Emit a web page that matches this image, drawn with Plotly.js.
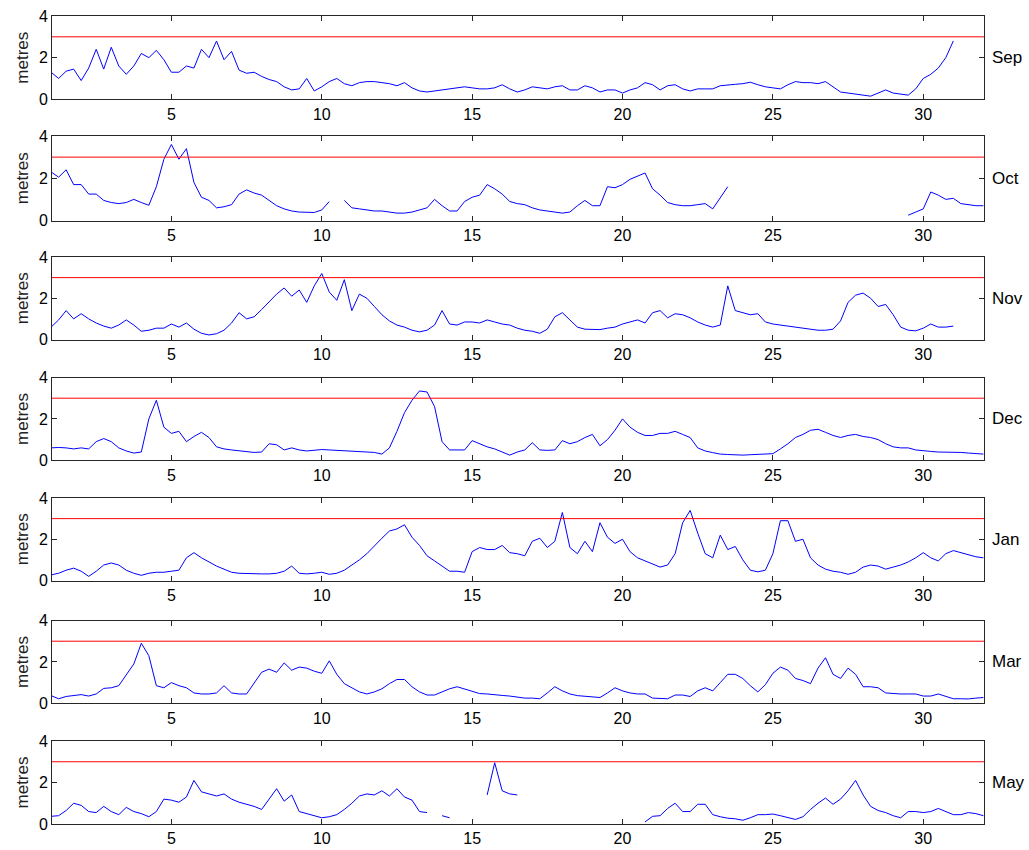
<!DOCTYPE html>
<html><head><meta charset="utf-8">
<script src="https://cdn.plot.ly/plotly-3.0.1.min.js"></script>
<style>html,body{margin:0;padding:0;background:#fff}#chart{width:1029px;height:850px}</style>
</head><body><div id="chart"></div><script>
// ---- data (wave height, metres) sampled every 0.25 day from day 1 ----
const months = ['Sep', 'Oct', 'Nov', 'Dec', 'Jan', 'Mar', 'May'];
const dayStart = 1;
const dayStep = 0.25;
const threshold = 3;
const xTicks = [5, 10, 15, 20, 25, 30];
const yTicks = [0, 2, 4];

const sep = [
 1.3, 1.0, 1.35, 1.45, 0.9, 1.5, 2.4, 1.45,
 2.5, 1.6, 1.2, 1.6, 2.2, 2.0, 2.35, 1.9,
 1.3, 1.3, 1.6, 1.5, 2.4, 2.0, 2.8, 1.9,
 2.3, 1.4, 1.25, 1.3, 1.1, 0.95, 0.85, 0.6,
 0.45, 0.5, 1.0, 0.4, 0.6, 0.85, 1.0, 0.75,
 0.65, 0.8, 0.85, 0.85, 0.8, 0.75, 0.65, 0.8,
 0.55, 0.4, 0.35, 0.4, 0.45, 0.5, 0.55, 0.6,
 0.55, 0.5, 0.5, 0.55, 0.7, 0.5, 0.35, 0.45,
 0.6, 0.55, 0.5, 0.6, 0.65, 0.45, 0.45, 0.65,
 0.55, 0.35, 0.45, 0.45, 0.3, 0.45, 0.55, 0.8,
 0.7, 0.45, 0.65, 0.7, 0.5, 0.4, 0.5, 0.5,
 0.5, 0.65, 0.7, 0.72, 0.75, 0.82, 0.7, 0.6,
 0.55, 0.5, 0.7, 0.85, 0.8, 0.8, 0.75, 0.85,
 0.6, 0.35, 0.3, 0.25, 0.2, 0.15, 0.3, 0.45,
 0.3, 0.25, 0.2, 0.5, 1.0, 1.2, 1.5, 2.0,
 2.8, null, null, null, null
];
const oct = [
 2.3, 2.05, 2.4, 1.7, 1.7, 1.25, 1.25, 0.95,
 0.85, 0.8, 0.85, 1.0, 0.85, 0.72, 1.6, 2.9,
 3.6, 2.9, 3.4, 1.8, 1.1, 0.95, 0.6, 0.65,
 0.75, 1.25, 1.45, 1.3, 1.2, 0.95, 0.7, 0.55,
 0.45, 0.4, 0.4, 0.38, 0.5, 0.9, null, 0.95,
 0.6, 0.55, 0.5, 0.45, 0.45, 0.4, 0.35, 0.35,
 0.4, 0.5, 0.6, 1.0, 0.7, 0.45, 0.45, 0.9,
 1.1, 1.2, 1.7, 1.5, 1.25, 0.9, 0.8, 0.75,
 0.6, 0.5, 0.45, 0.4, 0.35, 0.4, 0.7, 0.95,
 0.7, 0.7, 1.6, 1.55, 1.7, 1.95, 2.1, 2.25,
 1.5, 1.2, 0.85, 0.75, 0.7, 0.7, 0.75, 0.8,
 0.55, 1.1, 1.6, null, null, null, null, null,
 null, null, null, null, null, null, null, null,
 null, null, null, null, null, null, null, null,
 null, null, 0.25, 0.4, 0.55, 1.35, 1.2, 1.0,
 1.05, 0.8, 0.75, 0.7, 0.7
];
const nov = [
 0.6, 0.95, 1.4, 1.0, 1.25, 1.0, 0.8, 0.65,
 0.55, 0.7, 0.95, 0.7, 0.4, 0.45, 0.55, 0.55,
 0.75, 0.6, 0.8, 0.5, 0.3, 0.22, 0.28, 0.45,
 0.8, 1.3, 1.0, 1.1, 1.45, 1.85, 2.2, 2.5,
 2.1, 2.4, 1.8, 2.6, 3.2, 2.3, 1.9, 2.9,
 1.4, 2.2, 2.0, 1.6, 1.2, 0.9, 0.7, 0.6,
 0.45, 0.37, 0.45, 0.7, 1.4, 0.75, 0.7, 0.85,
 0.85, 0.8, 0.95, 0.85, 0.75, 0.7, 0.55, 0.45,
 0.4, 0.3, 0.5, 1.1, 1.3, 0.95, 0.6, 0.5,
 0.5, 0.48, 0.55, 0.6, 0.75, 0.85, 0.95, 0.8,
 1.3, 1.4, 1.05, 1.25, 1.2, 1.05, 0.85, 0.7,
 0.6, 0.7, 2.6, 1.4, 1.3, 1.2, 1.25, 0.85,
 0.75, 0.7, 0.65, 0.62, 0.58, 0.5, 0.45, 0.45,
 0.5, 0.9, 1.8, 2.15, 2.25, 2.0, 1.6, 1.7,
 1.2, 0.6, 0.45, 0.42, 0.55, 0.75, 0.6, 0.6,
 0.65, null, null, null, null
];
const dec = [
 0.6, 0.62, 0.6, 0.55, 0.6, 0.55, 0.9, 1.05,
 0.9, 0.6, 0.45, 0.35, 0.4, 2.0, 2.9, 1.6,
 1.3, 1.4, 0.9, 1.15, 1.35, 1.1, 0.65, 0.55,
 0.5, 0.45, 0.4, 0.38, 0.4, 0.8, 0.75, 0.5,
 0.6, 0.5, 0.45, 0.5, 0.52, 0.5, 0.48, 0.48,
 0.45, 0.43, 0.4, 0.38, 0.3, 0.6, 1.4, 2.3,
 2.9, 3.35, 3.3, 2.6, 0.9, 0.5, 0.5, 0.5,
 0.95, 0.8, 0.65, 0.55, 0.4, 0.25, 0.4, 0.5,
 0.85, 0.5, 0.48, 0.5, 0.95, 0.8, 0.9, 1.1,
 1.25, 0.7, 1.0, 1.45, 2.0, 1.6, 1.35, 1.2,
 1.2, 1.3, 1.3, 1.4, 1.25, 1.1, 0.6, 0.45,
 0.37, 0.3, 0.28, 0.25, 0.25, 0.27, 0.28, 0.3,
 0.32, 0.55, 0.8, 1.1, 1.25, 1.45, 1.5, 1.35,
 1.2, 1.1, 1.2, 1.25, 1.15, 1.1, 1.0, 0.8,
 0.65, 0.6, 0.6, 0.5, 0.45, 0.43, 0.4, 0.4,
 0.4, 0.38, 0.35, 0.33, 0.3
];
const jan = [
 0.27, 0.35, 0.5, 0.6, 0.45, 0.2, 0.45, 0.75,
 0.85, 0.75, 0.5, 0.35, 0.25, 0.35, 0.4, 0.4,
 0.45, 0.5, 1.1, 1.35, 1.1, 0.9, 0.7, 0.55,
 0.4, 0.35, 0.33, 0.32, 0.32, 0.32, 0.35, 0.45,
 0.7, 0.35, 0.32, 0.35, 0.4, 0.3, 0.35, 0.5,
 0.75, 1.0, 1.3, 1.7, 2.05, 2.4, 2.5, 2.7,
 2.1, 1.7, 1.2, 0.95, 0.7, 0.45, 0.45, 0.4,
 1.4, 1.6, 1.5, 1.5, 1.7, 1.35, 1.3, 1.2,
 1.9, 2.05, 1.6, 1.9, 3.3, 1.6, 1.3, 1.9,
 1.4, 2.8, 2.1, 1.8, 2.0, 1.4, 1.1, 0.95,
 0.8, 0.65, 0.75, 1.3, 2.8, 3.4, 2.3, 1.3,
 1.1, 2.2, 1.5, 1.65, 1.0, 0.5, 0.42, 0.5,
 1.3, 2.9, 2.9, 1.9, 2.0, 1.1, 0.75, 0.55,
 0.45, 0.4, 0.3, 0.4, 0.65, 0.75, 0.7, 0.55,
 0.65, 0.75, 0.9, 1.1, 1.35, 1.1, 0.95, 1.3,
 1.45, 1.35, 1.25, 1.15, 1.1
];
const mar = [
 0.37, 0.22, 0.33, 0.37, 0.42, 0.35, 0.45, 0.72,
 0.75, 0.85, 1.4, 1.9, 2.9, 2.3, 0.85, 0.75,
 1.0, 0.85, 0.75, 0.5, 0.45, 0.45, 0.5, 0.85,
 0.5, 0.45, 0.45, 1.0, 1.5, 1.65, 1.5, 1.95,
 1.6, 1.75, 1.7, 1.55, 1.45, 2.05, 1.4, 0.95,
 0.75, 0.55, 0.45, 0.55, 0.7, 0.95, 1.15, 1.15,
 0.8, 0.55, 0.4, 0.4, 0.55, 0.7, 0.8, 0.7,
 0.6, 0.47, 0.45, 0.4, 0.38, 0.35, 0.3, 0.25,
 0.25, 0.22, 0.5, 0.8, 0.6, 0.45, 0.37, 0.35,
 0.32, 0.28, 0.5, 0.75, 0.6, 0.5, 0.45, 0.45,
 0.25, 0.22, 0.22, 0.4, 0.4, 0.33, 0.6, 0.75,
 0.6, 1.0, 1.4, 1.4, 1.2, 0.85, 0.55, 0.9,
 1.45, 1.75, 1.6, 1.2, 1.1, 0.95, 1.7, 2.2,
 1.4, 1.2, 1.7, 1.4, 0.8, 0.8, 0.75, 0.5,
 0.47, 0.45, 0.45, 0.45, 0.35, 0.35, 0.45, 0.35,
 0.22, 0.22, 0.21, 0.25, 0.28
];
const may = [
 0.37, 0.4, 0.65, 1.0, 0.9, 0.6, 0.55, 0.85,
 0.6, 0.45, 0.8, 0.6, 0.5, 0.35, 0.6, 1.2,
 1.15, 1.05, 1.3, 2.1, 1.55, 1.45, 1.35, 1.45,
 1.2, 1.05, 0.95, 0.85, 0.7, 1.2, 1.7, 1.1,
 1.4, 0.6, 0.5, 0.37, 0.3, 0.35, 0.45, 0.7,
 1.0, 1.35, 1.45, 1.4, 1.6, 1.35, 1.7, 1.3,
 1.15, 0.6, 0.55, null, 0.4, 0.3, null, null,
 null, null, 1.4, 2.95, 1.6, 1.45, 1.4, null,
 null, null, null, null, null, null, null, null,
 null, null, null, null, null, null, null, 0.1,
 0.37, 0.4, 0.75, 1.0, 0.6, 0.6, 0.95, 0.95,
 0.45, 0.35, 0.28, 0.25, 0.18, 0.3, 0.45, 0.45,
 0.48, 0.4, 0.3, 0.22, 0.35, 0.7, 1.0, 1.25,
 0.95, 1.2, 1.6, 2.1, 1.4, 0.85, 0.65, 0.55,
 0.4, 0.3, 0.6, 0.6, 0.55, 0.6, 0.75, 0.6,
 0.45, 0.45, 0.55, 0.5, 0.4
];
const series = [sep, oct, nov, dec, jan, mar, may];

// ---- layout geometry ----
const W = 1029, H = 850;
const margin = {l: 52, r: 45, t: 16, b: 26};
const panelTop = [16, 136, 257, 377.5, 498, 620.5, 741];
const panelBottom = [99.3, 220.5, 339.5, 460.3, 580.5, 703.3, 824];
const plotH = H - margin.t - margin.b;
const frac = p => Math.max(0, Math.min(1, (H - margin.b - p) / plotH));

const axisColor = '#262626';
const fam = 'Liberation Sans, Arial, sans-serif';
const font = {family: fam, size: 16, color: '#000'};

const traces = [];
const layout = {
  width: W, height: H, margin: margin,
  paper_bgcolor: '#fff', plot_bgcolor: '#fff',
  showlegend: false, font: font,
  shapes: [], annotations: []
};

series.forEach((vals, i) => {
  const n = i === 0 ? '' : String(i + 1);
  const days = vals.map((_, k) => dayStart + k * dayStep);
  traces.push({
    x: days, y: vals, type: 'scatter', mode: 'lines',
    line: {color: '#0000ff', width: 1}, connectgaps: false,
    xaxis: 'x' + n, yaxis: 'y' + n, hoverinfo: 'x+y'
  });
  layout['xaxis' + n] = {
    domain: [0, 1], anchor: 'y' + n, range: [1.03, 32.02],
    tickvals: xTicks, ticktext: xTicks.map(String),
    ticks: 'inside', ticklen: 5, tickwidth: 1, tickcolor: axisColor,
    showline: true, linecolor: axisColor, linewidth: 1, mirror: 'ticks',
    showgrid: false, zeroline: false, tickfont: font, fixedrange: true
  };
  layout['yaxis' + n] = {
    domain: [frac(panelBottom[i]), frac(panelTop[i])], anchor: 'x' + n,
    range: [0, 4], tickvals: yTicks, ticktext: yTicks.map(String),
    ticks: 'inside', ticklen: 5, tickwidth: 1, tickcolor: axisColor,
    showline: true, linecolor: axisColor, linewidth: 1, mirror: 'ticks',
    showgrid: false, zeroline: false, tickfont: font, fixedrange: true,
    title: {text: 'metres', font: {family: fam, size: 17, color: '#222'}, standoff: 5}
  };
  layout.shapes.push({
    type: 'line', xref: 'x' + n + ' domain', x0: 0, x1: 1,
    yref: 'y' + n, y0: threshold, y1: threshold,
    line: {color: '#ff0000', width: 1}, layer: 'above'
  });
  layout.annotations.push({
    text: months[i], xref: 'paper', x: 1, xanchor: 'left', xshift: 6,
    yref: 'y' + n, y: 2, yanchor: 'middle', showarrow: false,
    font: {family: fam, size: 17, color: '#000'}
  });
});

Plotly.newPlot('chart', traces, layout, {displayModeBar: false, responsive: false});
</script></body></html>
